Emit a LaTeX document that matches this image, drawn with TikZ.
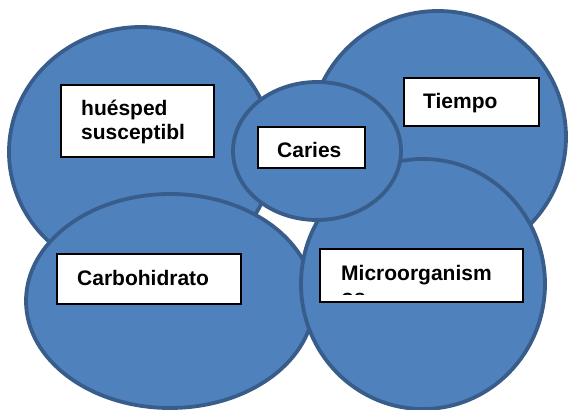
\documentclass[tikz,border=0pt]{standalone}
\usepackage{fontspec}
\setmainfont{Liberation Sans}
\usetikzlibrary{shapes.geometric}
\definecolor{vfill}{HTML}{4F81BD}
\definecolor{vline}{HTML}{385D8A}
\begin{document}
\begin{tikzpicture}[x=1pt,y=-1pt,
  venn/.style={ellipse, draw=vline, fill=vfill, line width=3.8pt, inner sep=0pt},
  lbox/.style={rectangle, draw=black, fill=white, line width=2pt, inner sep=0pt},
  ltext/.style={anchor=base west, inner sep=0pt, font=\fontsize{21}{24}\selectfont\bfseries}]
\useasboundingbox (0,0) rectangle (571,410);
% circles
\node[venn, minimum width=264pt, minimum height=250pt] (hue) at (141,152) {};
\node[venn, minimum width=256pt, minimum height=252pt] (tie) at (438,137) {};
\node[venn, minimum width=288pt, minimum height=214pt] (car) at (170,301) {};
\node[venn, minimum width=244pt, minimum height=250pt] (mic) at (423,284) {};
\node[venn, minimum width=168pt, minimum height=138pt] (cari) at (317,151) {};
% label boxes
\node[lbox, minimum width=153pt, minimum height=72pt] (huebox) at (137,120.5) {};
\node[lbox, minimum width=107pt, minimum height=41pt] (caribox) at (311,147) {};
\node[lbox, minimum width=135pt, minimum height=48pt] (tiebox) at (471,101.5) {};
\node[lbox, minimum width=184pt, minimum height=50pt] (carbox) at (148.5,278.5) {};
\node[lbox, minimum width=203pt, minimum height=53pt] (micbox) at (421,275) {};
% texts
\node[ltext] (t1) at (81,115) {huésped};
\node[ltext] (t2) at (81,139) {susceptibl};
\node[ltext] (t3) at (423,108) {Tiempo};
\node[ltext] (t4) at (277,157) {Caries};
\node[ltext] (t5) at (77,285) {Carbohidrato};
\node[ltext] (t6) at (341,280) {Microorganism};
\begin{scope}
  \clip (320,249) rectangle (522,294.5);
  \node[ltext] (t7) at (341,304) {os};
\end{scope}
\end{tikzpicture}
\end{document}
